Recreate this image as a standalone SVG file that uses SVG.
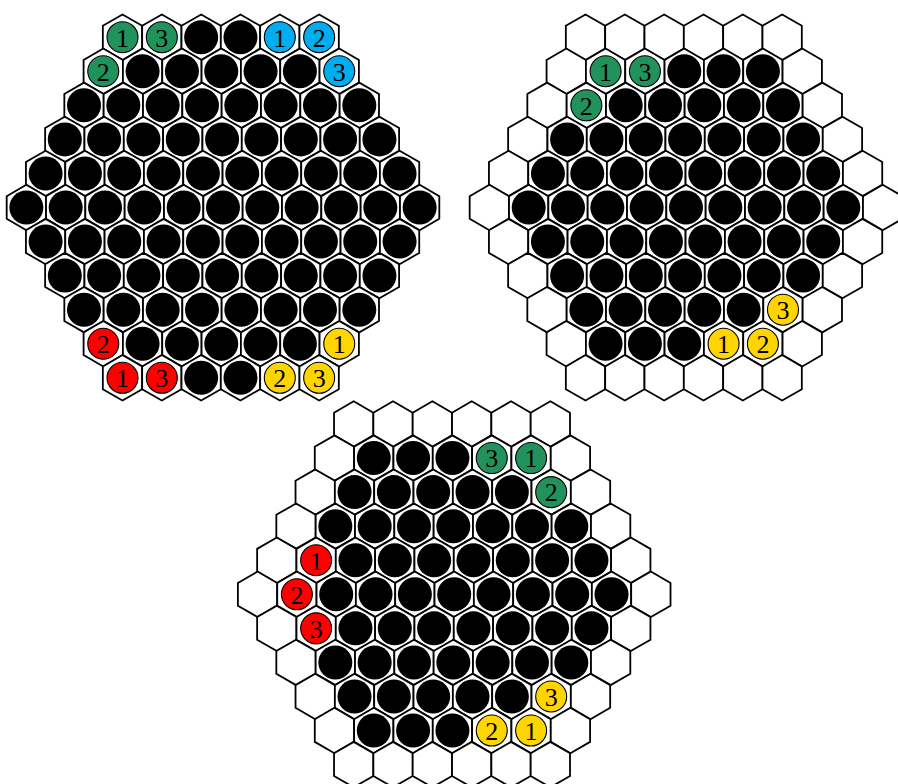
<svg xmlns="http://www.w3.org/2000/svg" width="898" height="784" viewBox="0 0 898 784">
<style>
.c{stroke:#000;stroke-width:1.1}
.gr{fill:#22925C}
.cy{fill:#00AEEF}
.rd{fill:#FF0000}
.yl{fill:#FFD500}
text{font-family:"Liberation Serif","Times New Roman",serif;font-size:26px;text-anchor:middle;fill:#000}
</style>
<defs>
<path id="hx" d="M0,-22.71 L19.665,-11.355 L19.665,11.355 L0,22.71 L-19.665,11.355 L-19.665,-11.355 Z" fill="#fff" stroke="#000" stroke-width="1.8"/>
<g id="b"><use href="#hx"/><circle r="17" fill="#000"/></g>
</defs>
<rect width="898" height="784" fill="#fff"/>

<g id="board-left" transform="translate(223,37.2)">
<g transform="translate(-100.5,0)">
<g transform="translate(0,0)"><use href="#hx"/><circle class="c gr" r="15.5"/><text y="9.3">1</text></g>
<g transform="translate(39.33,0)"><use href="#hx"/><circle class="c gr" r="15.5"/><text y="9.3">3</text></g>
<use href="#b" x="78.66"/><use href="#b" x="117.99"/>
<g transform="translate(157.32,0)"><use href="#hx"/><circle class="c cy" r="15.5"/><text y="9.3">1</text></g>
<g transform="translate(196.65,0)"><use href="#hx"/><circle class="c cy" r="15.5"/><text y="9.3">2</text></g>
</g>
<g transform="translate(-119.75,34.06)">
<g transform="translate(0,0)"><use href="#hx"/><circle class="c gr" r="15.5"/><text y="9.3">2</text></g>
<use href="#b" x="39.33"/><use href="#b" x="78.66"/><use href="#b" x="117.99"/><use href="#b" x="157.32"/><use href="#b" x="196.65"/>
<g transform="translate(235.98,0)"><use href="#hx"/><circle class="c cy" r="15.5"/><text y="9.3">3</text></g>
</g>
<g transform="translate(-139,68.12)">
<use href="#b" x="0"/><use href="#b" x="39.33"/><use href="#b" x="78.66"/><use href="#b" x="117.99"/><use href="#b" x="157.32"/><use href="#b" x="196.65"/><use href="#b" x="235.98"/><use href="#b" x="275.31"/>
</g>
<g transform="translate(-158.2,102.18)">
<use href="#b" x="0"/><use href="#b" x="39.33"/><use href="#b" x="78.66"/><use href="#b" x="117.99"/><use href="#b" x="157.32"/><use href="#b" x="196.65"/><use href="#b" x="235.98"/><use href="#b" x="275.31"/><use href="#b" x="314.64"/>
</g>
<g transform="translate(-177.4,136.24)">
<use href="#b" x="0"/><use href="#b" x="39.33"/><use href="#b" x="78.66"/><use href="#b" x="117.99"/><use href="#b" x="157.32"/><use href="#b" x="196.65"/><use href="#b" x="235.98"/><use href="#b" x="275.31"/><use href="#b" x="314.64"/><use href="#b" x="353.97"/>
</g>
<g transform="translate(-196.65,170.3)">
<use href="#b" x="0"/><use href="#b" x="39.33"/><use href="#b" x="78.66"/><use href="#b" x="117.99"/><use href="#b" x="157.32"/><use href="#b" x="196.65"/><use href="#b" x="235.98"/><use href="#b" x="275.31"/><use href="#b" x="314.64"/><use href="#b" x="353.97"/><use href="#b" x="393.3"/>
</g>
<g transform="translate(-177.4,204.36)">
<use href="#b" x="0"/><use href="#b" x="39.33"/><use href="#b" x="78.66"/><use href="#b" x="117.99"/><use href="#b" x="157.32"/><use href="#b" x="196.65"/><use href="#b" x="235.98"/><use href="#b" x="275.31"/><use href="#b" x="314.64"/><use href="#b" x="353.97"/>
</g>
<g transform="translate(-158.2,238.42)">
<use href="#b" x="0"/><use href="#b" x="39.33"/><use href="#b" x="78.66"/><use href="#b" x="117.99"/><use href="#b" x="157.32"/><use href="#b" x="196.65"/><use href="#b" x="235.98"/><use href="#b" x="275.31"/><use href="#b" x="314.64"/>
</g>
<g transform="translate(-139,272.48)">
<use href="#b" x="0"/><use href="#b" x="39.33"/><use href="#b" x="78.66"/><use href="#b" x="117.99"/><use href="#b" x="157.32"/><use href="#b" x="196.65"/><use href="#b" x="235.98"/><use href="#b" x="275.31"/>
</g>
<g transform="translate(-119.75,306.54)">
<g transform="translate(0,0)"><use href="#hx"/><circle class="c rd" r="15.5"/><text y="9.3">2</text></g>
<use href="#b" x="39.33"/><use href="#b" x="78.66"/><use href="#b" x="117.99"/><use href="#b" x="157.32"/><use href="#b" x="196.65"/>
<g transform="translate(235.98,0)"><use href="#hx"/><circle class="c yl" r="15.5"/><text y="9.3">1</text></g>
</g>
<g transform="translate(-100.5,340.6)">
<g transform="translate(0,0)"><use href="#hx"/><circle class="c rd" r="15.5"/><text y="9.3">1</text></g>
<g transform="translate(39.33,0)"><use href="#hx"/><circle class="c rd" r="15.5"/><text y="9.3">3</text></g>
<use href="#b" x="78.66"/><use href="#b" x="117.99"/>
<g transform="translate(157.32,0)"><use href="#hx"/><circle class="c yl" r="15.5"/><text y="9.3">2</text></g>
<g transform="translate(196.65,0)"><use href="#hx"/><circle class="c yl" r="15.5"/><text y="9.3">3</text></g>
</g>
</g>

<g id="board-right" transform="translate(686,37.2)">
<g transform="translate(-100.5,0)">
<use href="#hx" x="0"/><use href="#hx" x="39.33"/><use href="#hx" x="78.66"/><use href="#hx" x="117.99"/><use href="#hx" x="157.32"/><use href="#hx" x="196.65"/>
</g>
<g transform="translate(-119.75,34.06)">
<use href="#hx" x="0"/>
<g transform="translate(39.33,0)"><use href="#hx"/><circle class="c gr" r="15.5"/><text y="9.3">1</text></g>
<g transform="translate(78.66,0)"><use href="#hx"/><circle class="c gr" r="15.5"/><text y="9.3">3</text></g>
<use href="#b" x="117.99"/><use href="#b" x="157.32"/><use href="#b" x="196.65"/>
<use href="#hx" x="235.98"/>
</g>
<g transform="translate(-139,68.12)">
<use href="#hx" x="0"/>
<g transform="translate(39.33,0)"><use href="#hx"/><circle class="c gr" r="15.5"/><text y="9.3">2</text></g>
<use href="#b" x="78.66"/><use href="#b" x="117.99"/><use href="#b" x="157.32"/><use href="#b" x="196.65"/><use href="#b" x="235.98"/>
<use href="#hx" x="275.31"/>
</g>
<g transform="translate(-158.2,102.18)">
<use href="#hx" x="0"/><use href="#b" x="39.33"/><use href="#b" x="78.66"/><use href="#b" x="117.99"/><use href="#b" x="157.32"/><use href="#b" x="196.65"/><use href="#b" x="235.98"/><use href="#b" x="275.31"/><use href="#hx" x="314.64"/>
</g>
<g transform="translate(-177.4,136.24)">
<use href="#hx" x="0"/><use href="#b" x="39.33"/><use href="#b" x="78.66"/><use href="#b" x="117.99"/><use href="#b" x="157.32"/><use href="#b" x="196.65"/><use href="#b" x="235.98"/><use href="#b" x="275.31"/><use href="#b" x="314.64"/><use href="#hx" x="353.97"/>
</g>
<g transform="translate(-196.65,170.3)">
<use href="#hx" x="0"/><use href="#b" x="39.33"/><use href="#b" x="78.66"/><use href="#b" x="117.99"/><use href="#b" x="157.32"/><use href="#b" x="196.65"/><use href="#b" x="235.98"/><use href="#b" x="275.31"/><use href="#b" x="314.64"/><use href="#b" x="353.97"/><use href="#hx" x="393.3"/>
</g>
<g transform="translate(-177.4,204.36)">
<use href="#hx" x="0"/><use href="#b" x="39.33"/><use href="#b" x="78.66"/><use href="#b" x="117.99"/><use href="#b" x="157.32"/><use href="#b" x="196.65"/><use href="#b" x="235.98"/><use href="#b" x="275.31"/><use href="#b" x="314.64"/><use href="#hx" x="353.97"/>
</g>
<g transform="translate(-158.2,238.42)">
<use href="#hx" x="0"/><use href="#b" x="39.33"/><use href="#b" x="78.66"/><use href="#b" x="117.99"/><use href="#b" x="157.32"/><use href="#b" x="196.65"/><use href="#b" x="235.98"/><use href="#b" x="275.31"/><use href="#hx" x="314.64"/>
</g>
<g transform="translate(-139,272.48)">
<use href="#hx" x="0"/><use href="#b" x="39.33"/><use href="#b" x="78.66"/><use href="#b" x="117.99"/><use href="#b" x="157.32"/><use href="#b" x="196.65"/>
<g transform="translate(235.98,0)"><use href="#hx"/><circle class="c yl" r="15.5"/><text y="9.3">3</text></g>
<use href="#hx" x="275.31"/>
</g>
<g transform="translate(-119.75,306.54)">
<use href="#hx" x="0"/><use href="#b" x="39.33"/><use href="#b" x="78.66"/><use href="#b" x="117.99"/>
<g transform="translate(157.32,0)"><use href="#hx"/><circle class="c yl" r="15.5"/><text y="9.3">1</text></g>
<g transform="translate(196.65,0)"><use href="#hx"/><circle class="c yl" r="15.5"/><text y="9.3">2</text></g>
<use href="#hx" x="235.98"/>
</g>
<g transform="translate(-100.5,340.6)">
<use href="#hx" x="0"/><use href="#hx" x="39.33"/><use href="#hx" x="78.66"/><use href="#hx" x="117.99"/><use href="#hx" x="157.32"/><use href="#hx" x="196.65"/>
</g>
</g>

<g id="board-bottom" transform="translate(454.2,424)">
<g transform="translate(-100.5,0)">
<use href="#hx" x="0"/><use href="#hx" x="39.33"/><use href="#hx" x="78.66"/><use href="#hx" x="117.99"/><use href="#hx" x="157.32"/><use href="#hx" x="196.65"/>
</g>
<g transform="translate(-119.75,34.06)">
<use href="#hx" x="0"/><use href="#b" x="39.33"/><use href="#b" x="78.66"/><use href="#b" x="117.99"/>
<g transform="translate(157.32,0)"><use href="#hx"/><circle class="c gr" r="15.5"/><text y="9.3">3</text></g>
<g transform="translate(196.65,0)"><use href="#hx"/><circle class="c gr" r="15.5"/><text y="9.3">1</text></g>
<use href="#hx" x="235.98"/>
</g>
<g transform="translate(-139,68.12)">
<use href="#hx" x="0"/><use href="#b" x="39.33"/><use href="#b" x="78.66"/><use href="#b" x="117.99"/><use href="#b" x="157.32"/><use href="#b" x="196.65"/>
<g transform="translate(235.98,0)"><use href="#hx"/><circle class="c gr" r="15.5"/><text y="9.3">2</text></g>
<use href="#hx" x="275.31"/>
</g>
<g transform="translate(-158.2,102.18)">
<use href="#hx" x="0"/><use href="#b" x="39.33"/><use href="#b" x="78.66"/><use href="#b" x="117.99"/><use href="#b" x="157.32"/><use href="#b" x="196.65"/><use href="#b" x="235.98"/><use href="#b" x="275.31"/><use href="#hx" x="314.64"/>
</g>
<g transform="translate(-177.4,136.24)">
<use href="#hx" x="0"/>
<g transform="translate(39.33,0)"><use href="#hx"/><circle class="c rd" r="15.5"/><text y="9.3">1</text></g>
<use href="#b" x="78.66"/><use href="#b" x="117.99"/><use href="#b" x="157.32"/><use href="#b" x="196.65"/><use href="#b" x="235.98"/><use href="#b" x="275.31"/><use href="#b" x="314.64"/><use href="#hx" x="353.97"/>
</g>
<g transform="translate(-196.65,170.3)">
<use href="#hx" x="0"/>
<g transform="translate(39.33,0)"><use href="#hx"/><circle class="c rd" r="15.5"/><text y="9.3">2</text></g>
<use href="#b" x="78.66"/><use href="#b" x="117.99"/><use href="#b" x="157.32"/><use href="#b" x="196.65"/><use href="#b" x="235.98"/><use href="#b" x="275.31"/><use href="#b" x="314.64"/><use href="#b" x="353.97"/><use href="#hx" x="393.3"/>
</g>
<g transform="translate(-177.4,204.36)">
<use href="#hx" x="0"/>
<g transform="translate(39.33,0)"><use href="#hx"/><circle class="c rd" r="15.5"/><text y="9.3">3</text></g>
<use href="#b" x="78.66"/><use href="#b" x="117.99"/><use href="#b" x="157.32"/><use href="#b" x="196.65"/><use href="#b" x="235.98"/><use href="#b" x="275.31"/><use href="#b" x="314.64"/><use href="#hx" x="353.97"/>
</g>
<g transform="translate(-158.2,238.42)">
<use href="#hx" x="0"/><use href="#b" x="39.33"/><use href="#b" x="78.66"/><use href="#b" x="117.99"/><use href="#b" x="157.32"/><use href="#b" x="196.65"/><use href="#b" x="235.98"/><use href="#b" x="275.31"/><use href="#hx" x="314.64"/>
</g>
<g transform="translate(-139,272.48)">
<use href="#hx" x="0"/><use href="#b" x="39.33"/><use href="#b" x="78.66"/><use href="#b" x="117.99"/><use href="#b" x="157.32"/><use href="#b" x="196.65"/>
<g transform="translate(235.98,0)"><use href="#hx"/><circle class="c yl" r="15.5"/><text y="9.3">3</text></g>
<use href="#hx" x="275.31"/>
</g>
<g transform="translate(-119.75,306.54)">
<use href="#hx" x="0"/><use href="#b" x="39.33"/><use href="#b" x="78.66"/><use href="#b" x="117.99"/>
<g transform="translate(157.32,0)"><use href="#hx"/><circle class="c yl" r="15.5"/><text y="9.3">2</text></g>
<g transform="translate(196.65,0)"><use href="#hx"/><circle class="c yl" r="15.5"/><text y="9.3">1</text></g>
<use href="#hx" x="235.98"/>
</g>
<g transform="translate(-100.5,340.6)">
<use href="#hx" x="0"/><use href="#hx" x="39.33"/><use href="#hx" x="78.66"/><use href="#hx" x="117.99"/><use href="#hx" x="157.32"/><use href="#hx" x="196.65"/>
</g>
</g>
</svg>
